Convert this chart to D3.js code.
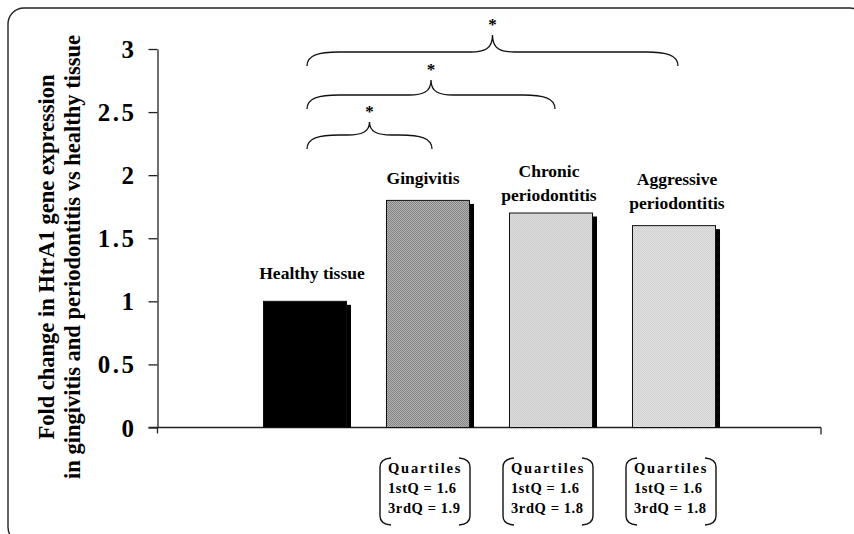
<!DOCTYPE html>
<html>
<head>
<meta charset="utf-8">
<script src="https://cdn.jsdelivr.net/npm/d3@7"></script>
<style>
  html, body { margin: 0; padding: 0; background: #fff; }
  svg { display: block; }
  text { font-family: "Liberation Serif", "Times New Roman", serif; font-weight: bold; }
</style>
</head>
<body>
<svg id="chart" width="854" height="534"></svg>
<script>
// ---- data ----
const categories = ["Healthy tissue", "Gingivitis", "Chronic periodontitis", "Aggressive periodontitis"];
const labelLines = [["Healthy tissue"], ["Gingivitis"], ["Chronic", "periodontitis"], ["Aggressive", "periodontitis"]];
const foldChange = [1.0, 1.8, 1.7, 1.6];
const yTicks = [0, 0.5, 1, 1.5, 2, 2.5, 3];
const yTickLabels = ["0", "0.5", "1", "1.5", "2", "2.5", "3"];
const comparisons = [1, 2, 3];           // each vs Healthy tissue, all significant
const significance = ["*", "*", "*"];
const quartileGroups = [1, 2, 3];
const q1 = [1.6, 1.6, 1.6];
const q3 = [1.9, 1.8, 1.8];
const yTitle = ["Fold change in HtrA1 gene expression", "in gingivitis and periodontitis vs healthy tissue"];

// ---- setup ----
const svg = d3.select("#chart");
const defs = svg.append("defs");

function dotPattern(id, bg, fg) {
  const p = defs.append("pattern").attr("id", id).attr("patternUnits", "userSpaceOnUse")
    .attr("width", 2).attr("height", 2);
  p.append("rect").attr("width", 2).attr("height", 2).attr("fill", bg);
  p.append("rect").attr("width", 1).attr("height", 1).attr("fill", fg);
  p.append("rect").attr("x", 1).attr("y", 1).attr("width", 1).attr("height", 1).attr("fill", fg);
}
dotPattern("pGing", "#b0b0b0", "#858585");
dotPattern("pChron", "#dedede", "#cbcbcb");
dotPattern("pAggr", "#e2e2e2", "#cfcfcf");
const fills = ["#000", "url(#pGing)", "url(#pChron)", "url(#pAggr)"];

// frame
svg.append("rect").attr("x", 8).attr("y", 8).attr("width", 858).attr("height", 535)
  .attr("rx", 16).attr("fill", "none").attr("stroke", "#222").attr("stroke-width", 1.4);

const y = d3.scaleLinear().domain([0, 3]).range([427.5, 49]);
const x = d3.scaleBand().domain(categories).range([243.5, 735.5]).paddingInner(0.325).paddingOuter(0.1625);
const axisX = 157.5;
const axisEnd = 821;

// y axis
const yAxis = d3.axisLeft(y).tickValues(yTicks).tickSize(9).tickSizeOuter(0)
  .tickFormat((d, i) => yTickLabels[i]).tickPadding(12);
const gy = svg.append("g").attr("transform", `translate(${axisX},0)`).call(yAxis);
gy.select(".domain").attr("stroke", "#222").attr("stroke-width", 1.3);
gy.selectAll(".tick line").attr("stroke", "#222").attr("stroke-width", 1.3);
gy.selectAll(".tick text").attr("font-size", 25).attr("font-family", "Liberation Serif, serif")
  .attr("font-weight", "bold").attr("fill", "#000").attr("dy", "0.34em").attr("letter-spacing", 2.5);

// x axis line with end ticks
svg.append("line").attr("x1", axisX - 9).attr("x2", axisEnd).attr("y1", y(0)).attr("y2", y(0))
  .attr("stroke", "#222").attr("stroke-width", 1.3);
svg.append("line").attr("x1", axisX).attr("x2", axisX).attr("y1", y(0)).attr("y2", y(0) + 6)
  .attr("stroke", "#222").attr("stroke-width", 1.3);
svg.append("line").attr("x1", axisEnd).attr("x2", axisEnd).attr("y1", y(0)).attr("y2", y(0) + 7)
  .attr("stroke", "#222").attr("stroke-width", 1.3);

// bars: shadow then bar
const bw = x.bandwidth();
svg.append("g").selectAll("rect").data(foldChange).join("rect")
  .attr("x", (d, i) => x(categories[i]) + 4.5)
  .attr("y", d => y(d) + 3.5)
  .attr("width", bw)
  .attr("height", d => y(0) - y(d) - 3.5)
  .attr("fill", "#000");
svg.append("g").selectAll("rect").data(foldChange).join("rect")
  .attr("x", (d, i) => x(categories[i]))
  .attr("y", d => y(d))
  .attr("width", bw)
  .attr("height", d => y(0) - y(d))
  .attr("fill", (d, i) => fills[i])
  .attr("stroke", "#111").attr("stroke-width", 1);

// category labels
const lblOffset = [7, -5, -2, 3];
const lblGap = [22, 16, 12, 17];
svg.append("g").selectAll("text").data(labelLines).join("text")
  .attr("text-anchor", "middle").attr("font-size", 17.5)
  .each(function (lines, i) {
    const cx = x(categories[i]) + bw / 2 + lblOffset[i];
    const lastY = y(foldChange[i]) - lblGap[i];
    const n = lines.length;
    d3.select(this).selectAll("tspan").data(lines).join("tspan")
      .attr("x", cx).attr("y", (l, j) => lastY - (n - 1 - j) * 24).text(l => l);
  });

// significance braces
const braceLevels = [135, 95, 52];
const peakDepth = [13, 15, 17];
const cx0 = x(categories[0]) + bw / 2 + 2;
const gb = svg.append("g");
comparisons.forEach((ci, k) => {
  const x0 = cx0;
  const x1 = x(categories[ci]) + bw / 2 + 4;
  const yh = braceLevels[k];
  const pk = yh - peakDepth[k];
  const m = (x0 + x1) / 2;
  const p = d3.path();
  p.moveTo(x0, yh + 14);
  p.bezierCurveTo(x0, yh + 3, x0 + 12, yh, x0 + 32, yh);
  p.lineTo(m - 22, yh);
  p.bezierCurveTo(m - 8, yh, m, yh - 3, m, pk);
  p.bezierCurveTo(m, yh - 3, m + 8, yh, m + 22, yh);
  p.lineTo(x1 - 32, yh);
  p.bezierCurveTo(x1 - 12, yh, x1, yh + 3, x1, yh + 14);
  gb.append("path").attr("d", p.toString()).attr("fill", "none")
    .attr("stroke", "#111").attr("stroke-width", 1.3);
  gb.append("text").attr("x", m).attr("y", pk - 5).attr("text-anchor", "middle")
    .attr("font-family", "Liberation Sans, Arial, sans-serif").attr("font-weight", "normal")
    .attr("font-size", 17).text(significance[k]);
});

// quartile boxes
const gq = svg.append("g");
quartileGroups.forEach((ci, k) => {
  const c = x(categories[ci]) + bw / 2 - 3;
  const left = c - 45, right = c + 45, top = 458, bot = 525;
  const lp = d3.path();
  lp.moveTo(left + 11, top); lp.quadraticCurveTo(left, top + 1, left, top + 9);
  lp.lineTo(left, bot - 9); lp.quadraticCurveTo(left, bot - 1, left + 11, bot);
  const rp = d3.path();
  rp.moveTo(right - 11, top); rp.quadraticCurveTo(right, top + 1, right, top + 9);
  rp.lineTo(right, bot - 9); rp.quadraticCurveTo(right, bot - 1, right - 11, bot);
  gq.append("path").attr("d", lp.toString()).attr("fill", "none").attr("stroke", "#111").attr("stroke-width", 1.4);
  gq.append("path").attr("d", rp.toString()).attr("fill", "none").attr("stroke", "#111").attr("stroke-width", 1.4);
  const lines = ["Quartiles", `1stQ = ${q1[k].toFixed(1)}`, `3rdQ = ${q3[k].toFixed(1)}`];
  gq.append("text").attr("font-size", 14.5)
    .selectAll("tspan").data(lines).join("tspan")
    .attr("letter-spacing", (l, j) => j === 0 ? 1.8 : 0.6)
    .attr("x", left + 8).attr("y", (l, j) => 473 + j * 20).text(l => l);
});

// y axis title
const gt = svg.append("g").attr("transform", "translate(0,257) rotate(-90)");
gt.selectAll("text").data(yTitle).join("text")
  .attr("text-anchor", "middle").attr("font-size", 22.5)
  .attr("x", 0).attr("y", (d, i) => 54 + i * 26).text(d => d);
</script>
</body>
</html>
